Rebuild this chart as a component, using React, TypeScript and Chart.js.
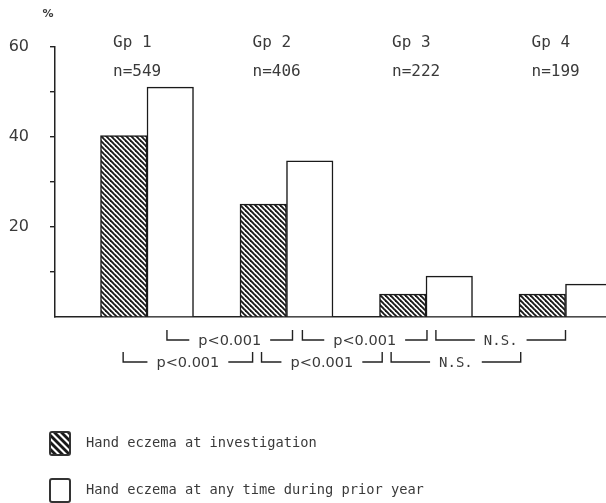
import React, { useEffect, useRef } from "react";
import { Chart, registerables } from "chart.js";

Chart.register(...registerables);

const groups = ["Gp 1", "Gp 2", "Gp 3", "Gp 4"];
const groupCounts = ["n=549", "n=406", "n=222", "n=199"];
const atInvestigation = [40.3, 25.1, 5.1, 5.1];
const priorYear = [51.1, 34.7, 9.1, 7.3];
const seriesNames = [
  "Hand eczema at investigation",
  "Hand eczema at any time during prior year",
];
const yTickLabels = [20, 40, 60];

// significance brackets (in group units on the x scale)
const bracketFrom = [1.143, 2.114, 3.071, 0.829, 1.821, 2.75];
const bracketTo = [2.043, 3.007, 4.0, 1.757, 2.686, 3.679];
const bracketText = ["p<0.001", "p<0.001", "N.S.", "p<0.001", "p<0.001", "N.S."];
const bracketRow = [0, 0, 0, 1, 1, 1];

const INK = "#222";
const TEXT = "#3a3a3a";
const MONO = "'DejaVu Sans Mono', monospace";
const SANS = "'DejaVu Sans', sans-serif";

function makeHatch(period: number, width: number, bg = "#fff"): CanvasPattern | string {
  const c = document.createElement("canvas");
  c.width = period;
  c.height = period;
  const g = c.getContext("2d");
  if (!g) return "#888";
  g.fillStyle = bg;
  g.fillRect(0, 0, period, period);
  g.strokeStyle = "#1a1a1a";
  g.lineWidth = width;
  for (let k = -1; k <= 1; k++) {
    g.beginPath();
    g.moveTo(k * period - 1, -1);
    g.lineTo(k * period + period + 1, period + 1);
    g.stroke();
  }
  return g.createPattern(c, "repeat") || "#888";
}

export default function App() {
  const ref = useRef<HTMLCanvasElement | null>(null);

  useEffect(() => {
    const canvas = ref.current;
    if (!canvas) return;
    const hatch = makeHatch(5, 1.9);
    const legendHatch = makeHatch(7, 2.8);

    const annotations = {
      id: "annotations",
      afterDraw(chart: any) {
        const { ctx } = chart;
        const xs = chart.scales.x;
        ctx.save();
        ctx.fillStyle = TEXT;
        ctx.textBaseline = "middle";

        // % unit
        ctx.font = `bold 11px ${SANS}`;
        ctx.textAlign = "center";
        ctx.fillText("%", 48, 14);

        // group labels
        ctx.font = `16px ${MONO}`;
        ctx.textAlign = "left";
        groups.forEach((g, i) => {
          const cx = xs.getPixelForValue(i + 1);
          ctx.fillText(g, cx - 34, 43);
          ctx.fillText(groupCounts[i], cx - 34, 72);
        });

        // brackets
        ctx.strokeStyle = INK;
        ctx.lineWidth = 1.4;
        bracketText.forEach((t, i) => {
          const y = bracketRow[i] === 0 ? 340 : 362;
          const x0 = xs.getPixelForValue(bracketFrom[i]);
          const x1 = xs.getPixelForValue(bracketTo[i]);
          const isNS = t === "N.S.";
          ctx.font = isNS ? `14px ${MONO}` : `14.5px ${SANS}`;
          const w = ctx.measureText(t).width;
          const cx = (x0 + x1) / 2;
          ctx.textAlign = "center";
          ctx.fillText(t, cx, y + 1);
          ctx.beginPath();
          ctx.moveTo(x0, y - 10);
          ctx.lineTo(x0, y);
          ctx.lineTo(cx - w / 2 - 9, y);
          ctx.moveTo(cx + w / 2 + 9, y);
          ctx.lineTo(x1, y);
          ctx.lineTo(x1, y - 10);
          ctx.stroke();
        });

        // legend
        const legendY = [432, 479];
        const fills = [legendHatch, "#fff"];
        ctx.font = `13.7px ${MONO}`;
        ctx.textAlign = "left";
        seriesNames.forEach((name, i) => {
          const y = legendY[i];
          ctx.beginPath();
          (ctx as any).roundRect ? (ctx as any).roundRect(50, y, 20, 23, 2) : ctx.rect(50, y, 20, 23);
          ctx.fillStyle = fills[i] as any;
          ctx.fill();
          ctx.strokeStyle = "#333";
          ctx.lineWidth = 2;
          ctx.stroke();
          ctx.fillStyle = TEXT;
          ctx.fillText(name, 86, y + 11);
        });
        ctx.restore();
      },
    };

    const chart = new Chart(canvas, {
      type: "bar",
      data: {
        datasets: [
          {
            label: seriesNames[0],
            data: atInvestigation.map((v, i) => ({ x: i + 1, y: v })),
            backgroundColor: hatch as any,
            borderColor: "#1a1a1a",
            borderWidth: 1.5,
            borderSkipped: "bottom",
            barThickness: 46.5,
          },
          {
            label: seriesNames[1],
            data: priorYear.map((v, i) => ({ x: i + 1, y: v })),
            backgroundColor: "#ffffff",
            borderColor: "#1a1a1a",
            borderWidth: 1.5,
            borderSkipped: "bottom",
            barThickness: 46.5,
          },
        ],
      },
      options: {
        responsive: false,
        animation: false,
        layout: { padding: { left: 0, right: 0, top: 47, bottom: 186 } },
        plugins: {
          legend: { display: false },
          tooltip: { enabled: false },
        },
        scales: {
          x: {
            type: "linear",
            offset: false,
            bounds: "data",
            min: 1 - 92 / 139.5,
            max: 1 + 459 / 139.5,
            ticks: { display: false },
            grid: { display: false, drawTicks: false, offset: false },
            border: { display: true, color: INK, width: 1.5 },
            afterFit: (s: any) => {
              s.height = 0;
            },
          },
          y: {
            min: 0,
            max: 60,
            ticks: {
              stepSize: 10,
              padding: 21,
              color: TEXT,
              font: { family: SANS, size: 16 },
              callback: (v: any) => (yTickLabels.includes(Number(v)) ? String(v) : ""),
            },
            grid: {
              drawOnChartArea: false,
              drawTicks: true,
              tickLength: 5,
              lineWidth: 1.4,
              color: (c: any) => (c.tick && c.tick.value === 0 ? "rgba(0,0,0,0)" : INK),
            },
            border: { display: true, color: INK, width: 1.5 },
            afterFit: (s: any) => {
              s.width = 55;
            },
          },
        },
      },
      plugins: [annotations],
    });

    return () => chart.destroy();
  }, []);

  return (
    <canvas
      ref={ref}
      width={606}
      height={503}
      style={{ position: "fixed", left: 0, top: 0, background: "#fff" }}
    />
  );
}
